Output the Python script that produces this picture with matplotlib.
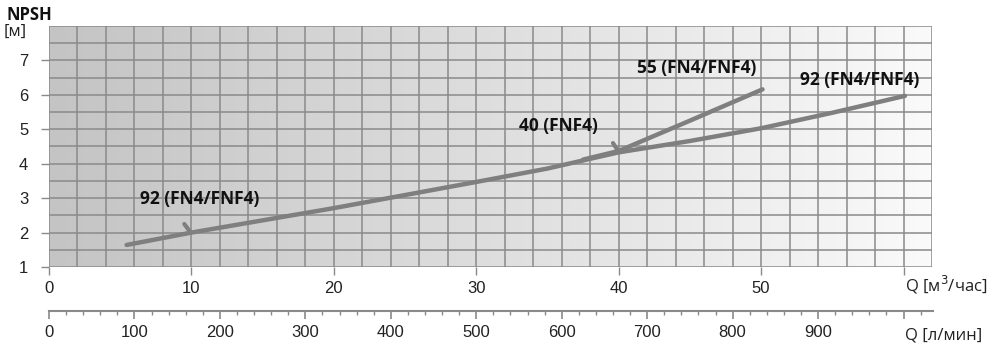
import numpy as np
import matplotlib
matplotlib.use("Agg")
import matplotlib.pyplot as plt
from matplotlib.colors import LinearSegmentedColormap

# ---- data ----
q92_x = [5.45, 10, 20, 30, 35, 40, 45, 50, 55, 60.1]
q92_y = [1.64, 2.0, 2.71, 3.47, 3.86, 4.33, 4.66, 5.03, 5.48, 5.97]
q55_x = [37.5, 40, 45, 50.1]
q55_y = [4.12, 4.37, 5.25, 6.16]
x_ticks = [0, 10, 20, 30, 40, 50, 60]
x_ticklabels = ["0", "10", "20", "30", "40", "50", ""]
y_ticks = [1, 2, 3, 4, 5, 6, 7]
l_ticks = [0, 100, 200, 300, 400, 500, 600, 700, 800, 900, 1000]
l_ticklabels = ["0", "100", "200", "300", "400", "500", "600", "700", "800", "900", ""]
labels = ["92 (FN4/FNF4)", "40 (FNF4)", "55 (FN4/FNF4)", "92 (FN4/FNF4)"]
label_pos = [(10.6, 2.98), (35.8, 5.1), (45.5, 6.78), (56.9, 6.42)]
leaders = [((9.5, 2.25), (9.95, 2.0)), ((39.6, 4.6), (40.0, 4.35))]

W, H = 1007, 347
fig = plt.figure(figsize=(W / 100, H / 100), dpi=100)
L, R, T, B = 49, 932, 26, 267
ax = fig.add_axes([L / W, 1 - B / H, (R - L) / W, (B - T) / H])
ax.set_xlim(0, 62)
ax.set_ylim(1, 8)

cmap = LinearSegmentedColormap.from_list("bg", ["#c4c4c4", "#dedede", "#fafafa"])
grad = np.linspace(0, 1, 256).reshape(1, -1)
ax.imshow(grad, extent=[0, 62, 1, 8], aspect="auto", cmap=cmap, zorder=0)

gc = "#8a8a8a"
for xv in np.arange(0, 62.01, 2):
    ax.axvline(xv, color=gc, lw=1.1, zorder=1)
for yv in np.arange(1, 8.01, 0.5):
    ax.axhline(yv, color=gc, lw=1.1, zorder=1)
for s in ax.spines.values():
    s.set_visible(False)

lc = "#7f7f7f"
ax.plot(q92_x, q92_y, color=lc, lw=3.2, solid_capstyle="round", zorder=3)
ax.plot(q55_x, q55_y, color=lc, lw=3.2, solid_capstyle="round", zorder=3)
for (a, b) in leaders:
    ax.plot([a[0], b[0]], [a[1], b[1]], color=lc, lw=3.0, solid_capstyle="round", zorder=3)

for txt, (xp, yp) in zip(labels, label_pos):
    ax.text(xp, yp, txt, ha="center", va="center", fontsize=12.5,
            fontweight="bold", family="Open Sans", color="#111111", zorder=4)

ax.set_xticks(x_ticks)
ax.set_xticklabels(x_ticklabels)
ax.set_yticks(y_ticks)
ax.tick_params(axis="both", length=6, width=1, color=gc, labelsize=12,
               labelcolor="#222222")
ax.tick_params(axis="x", pad=4)
ax.tick_params(axis="y", pad=9)
for lab in ax.get_xticklabels() + ax.get_yticklabels():
    lab.set_family("Liberation Sans")

# secondary axis in l/min
y2 = 311
ax2 = fig.add_axes([L / W, 1 - y2 / H, (933 - L) / W, 0.0001])
ax2.set_xlim(0, (933 - L) / (R - L) * 62 / 0.06)
ax2.set_yticks([])
for k in ["top", "left", "right"]:
    ax2.spines[k].set_visible(False)
ax2.spines["bottom"].set_color(gc)
ax2.spines["bottom"].set_linewidth(1.5)
ax2.patch.set_visible(False)
ax2.set_xticks(l_ticks)
ax2.set_xticklabels(l_ticklabels)
ax2.set_xticks(np.arange(0, 1033, 20), minor=True)
ax2.tick_params(axis="x", which="major", length=6, width=1.2, color=gc,
                labelsize=12, labelcolor="#222222", pad=4)
ax2.tick_params(axis="x", which="minor", length=3, width=1, color=gc)
for lab in ax2.get_xticklabels():
    lab.set_family("Liberation Sans")

fig.text(7 / W, 1 - 15 / H, "NPSH", fontsize=12, fontweight="bold",
         family="Open Sans", va="center", ha="left", color="#111111")
fig.text(4 / W, 1 - 32 / H, "[м]", fontsize=12, family="Open Sans",
         va="center", ha="left", color="#222222")
fig.text(905 / W, 1 - 285 / H, "Q [м$^3$/час]", fontsize=12, family="Open Sans",
         va="center", ha="left", color="#222222")
fig.text(905 / W, 1 - 335 / H, "Q [л/мин]", fontsize=12, family="Open Sans",
         va="center", ha="left", color="#222222")

fig.savefig("out.png", dpi=100)
